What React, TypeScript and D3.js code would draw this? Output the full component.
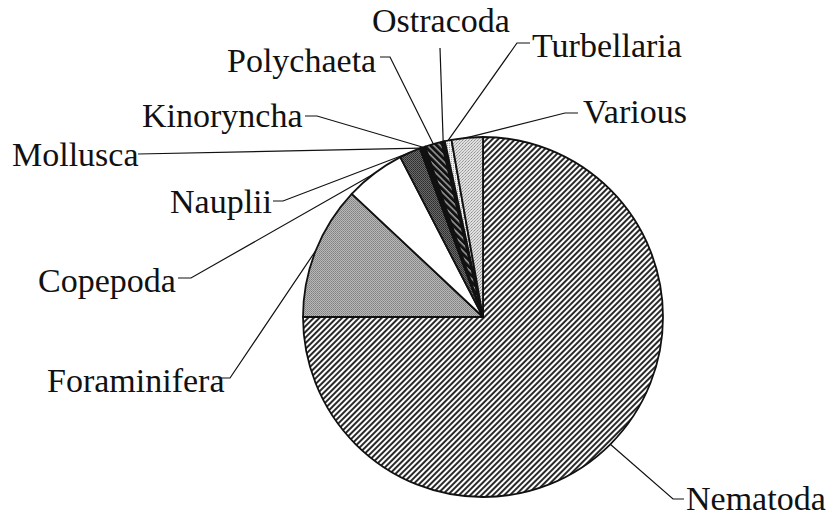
import React from "react";
import * as d3 from "d3";

const categories = [
  "Nematoda",
  "Foraminifera",
  "Copepoda",
  "Nauplii",
  "Mollusca",
  "Kinoryncha",
  "Polychaeta",
  "Ostracoda",
  "Turbellaria",
  "Various",
];
const values = [75, 12, 5.4, 1.9, 0.1, 0.4, 1.5, 0.3, 0.6, 2.8];

// layout of labels: text position and leader line start
const labelLayout: Record<string, { x: number; y: number; anchor: string; lead: [number, number][] }> = {
  Nematoda: { x: 686, y: 510, anchor: "start", lead: [[684, 499], [673, 499]] },
  Foraminifera: { x: 47, y: 392, anchor: "start", lead: [[218, 378], [230, 378]] },
  Copepoda: { x: 38, y: 292, anchor: "start", lead: [[178, 278], [191, 278]] },
  Nauplii: { x: 170, y: 213, anchor: "start", lead: [[273, 201], [283, 201]] },
  Mollusca: { x: 12, y: 166, anchor: "start", lead: [[138, 154]] },
  Kinoryncha: { x: 142, y: 127, anchor: "start", lead: [[305, 116], [317, 116]] },
  Polychaeta: { x: 227, y: 72, anchor: "start", lead: [[380, 57], [390, 57]] },
  Ostracoda: { x: 372, y: 32, anchor: "start", lead: [[440, 48]] },
  Turbellaria: { x: 532, y: 57, anchor: "start", lead: [[530, 43], [517, 43]] },
  Various: { x: 583, y: 123, anchor: "start", lead: [[578, 113], [565, 113]] },
};

const fills: Record<string, string> = {
  Nematoda: "url(#hatchFwd)",
  Foraminifera: "url(#stipMid)",
  Copepoda: "#ffffff",
  Nauplii: "url(#stipDark)",
  Mollusca: "#1a1a1a",
  Kinoryncha: "#111111",
  Polychaeta: "url(#hatchBackBlack)",
  Ostracoda: "#111111",
  Turbellaria: "url(#stipLight)",
  Various: "url(#stipLight2)",
};

export default function App() {
  const W = 835;
  const H = 519;
  const cx = 483;
  const cy = 317;
  const r = 180;

  const pie = d3
    .pie<number>()
    .sort(null)
    .value((d) => d);
  const arcs = pie(values);
  const arcGen = d3.arc<d3.PieArcDatum<number>>().innerRadius(0).outerRadius(r);

  return (
    <svg
      width={W}
      height={H}
      style={{ position: "absolute", left: 0, top: 0, background: "#fff" }}
    >
      <defs>
        <pattern id="hatchFwd" width="4" height="4" patternUnits="userSpaceOnUse" patternTransform="rotate(45)">
          <rect width="4" height="4" fill="#fff" />
          <line x1="1" y1="0" x2="1" y2="4" stroke="#111" strokeWidth="1.8" />
        </pattern>
        <pattern id="hatchBackBlack" width="4.5" height="4.5" patternUnits="userSpaceOnUse" patternTransform="rotate(-45)">
          <rect width="4.5" height="4.5" fill="#111" />
          <line x1="1" y1="0" x2="1" y2="4.5" stroke="#e8e8e8" strokeWidth="1" />
        </pattern>
        <pattern id="stipMid" width="2" height="2" patternUnits="userSpaceOnUse">
          <rect width="2" height="2" fill="#b8b8b8" />
          <rect width="1" height="1" fill="#808080" />
          <rect x="1" y="1" width="1" height="1" fill="#909090" />
        </pattern>
        <pattern id="stipDark" width="2" height="2" patternUnits="userSpaceOnUse">
          <rect width="2" height="2" fill="#6a6a6a" />
          <rect width="1" height="1" fill="#2a2a2a" />
          <rect x="1" y="1" width="1" height="1" fill="#3a3a3a" />
        </pattern>
        <pattern id="stipLight" width="2" height="2" patternUnits="userSpaceOnUse">
          <rect width="2" height="2" fill="#f2f2f2" />
          <rect width="1" height="1" fill="#a8a8a8" />
        </pattern>
        <pattern id="stipLight2" width="3" height="3" patternUnits="userSpaceOnUse">
          <rect width="3" height="3" fill="#e0e0e0" />
          <rect width="1" height="1" fill="#909090" />
          <rect x="2" y="1" width="1" height="1" fill="#aaaaaa" />
          <rect x="1" y="2" width="1" height="1" fill="#a6a6a6" />
        </pattern>
      </defs>
      <g transform={`translate(${cx},${cy})`}>
        {arcs.map((a, i) => (
          <path
            key={categories[i]}
            d={arcGen(a) || ""}
            fill={fills[categories[i]]}
            stroke="#111"
            strokeWidth={1.8}
            strokeLinejoin="round"
          />
        ))}
      </g>
      {arcs.map((a, i) => {
        const name = categories[i];
        const lay = labelLayout[name];
        const mid = (a.startAngle + a.endAngle) / 2;
        const px = cx + r * Math.sin(mid);
        const py = cy - r * Math.cos(mid);
        const pts: [number, number][] = [...lay.lead, [px, py]];
        const line = d3.line()(pts) || "";
        return (
          <g key={name}>
            <path d={line} fill="none" stroke="#111" strokeWidth={1.2} />
            <text
              x={lay.x}
              y={lay.y}
              textAnchor={lay.anchor as any}
              fontFamily="'Liberation Serif', 'Times New Roman', serif"
              fontSize={34}
              fill="#111"
            >
              {name}
            </text>
          </g>
        );
      })}
    </svg>
  );
}
